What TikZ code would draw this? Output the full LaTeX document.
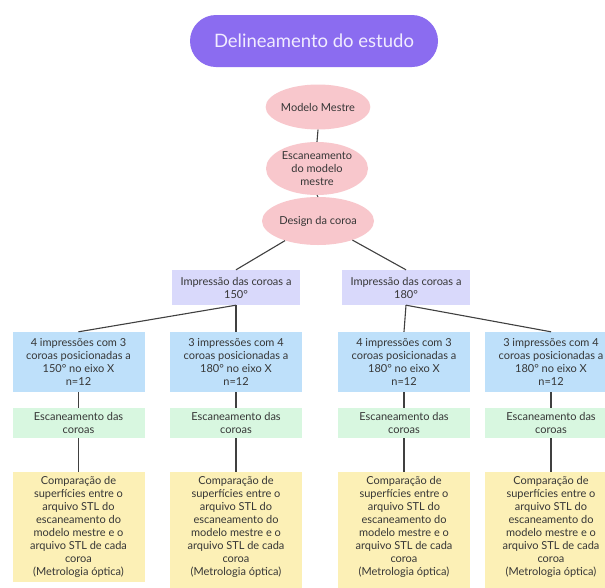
\documentclass[tikz,border=0pt]{standalone}
\usepackage{fontspec}
\setmainfont{Lato}
\usetikzlibrary{shapes.geometric}
\definecolor{pill}{HTML}{8B6CF0}
\definecolor{pilltext}{HTML}{F1ECFF}
\definecolor{pinkc}{HTML}{F8C7CC}
\definecolor{lav}{HTML}{D9D9FB}
\definecolor{bluec}{HTML}{BEE0FA}
\definecolor{greenc}{HTML}{D8F7E0}
\definecolor{yellowc}{HTML}{FCF0B6}
\definecolor{txt}{HTML}{363636}
\definecolor{linec}{HTML}{404040}
\begin{document}
\begin{tikzpicture}[x=1pt,y=-1pt,
  titlebox/.style={rectangle, rounded corners=26pt, fill=pill, text=pilltext, minimum width=248pt, minimum height=52pt, inner sep=0pt, font=\fontsize{18.5}{22}\selectfont},
  oval/.style={ellipse, fill=pinkc, inner sep=0pt, align=center, text=txt, font=\fontsize{11}{13}\selectfont},
  box/.style={rectangle, inner sep=0pt, align=center, text=txt, font=\fontsize{11}{13}\selectfont, minimum width=132pt},
  lavbox/.style={box, fill=lav, minimum width=128pt, minimum height=35pt},
  bluebox/.style={box, fill=bluec, minimum height=60pt},
  greenbox/.style={box, fill=greenc, minimum height=30pt},
  yellowbox/.style={box, fill=yellowc, minimum height=110pt},
  conn/.style={draw=linec, line width=1.1pt}
]
\useasboundingbox (0,0) rectangle (605,587);
\fill[white] (0,0) rectangle (605,587);

\node[titlebox] (title) at (314,41) {Delineamento do estudo};

\node[oval, minimum width=98pt, minimum height=45pt] (e1) at (318,107) {Modelo Mestre};
\node[oval, minimum width=102pt, minimum height=53pt] (e2) at (317,168.5) {Escaneamento\\do modelo\\mestre};
\node[oval, minimum width=112pt, minimum height=48pt] (e3) at (318,221) {Design da coroa};

\node[lavbox] (la) at (236,287.5) {Impressão das coroas a\\150°};
\node[lavbox] (lb) at (406,287.5) {Impressão das coroas a\\180°};

\node[bluebox] (ba) at (78.5,362) {4 impressões com 3\\coroas posicionadas a\\150° no eixo X\\n=12};
\node[bluebox] (bb) at (236,362) {3 impressões com 4\\coroas posicionadas a\\180° no eixo X\\n=12};
\node[bluebox] (bc) at (404,362) {4 impressões com 3\\coroas posicionadas a\\180° no eixo X\\n=12};
\node[bluebox] (bd) at (551,362) {3 impressões com 4\\coroas posicionadas a\\180° no eixo X\\n=12};

\node[greenbox] (ga) at (78.5,423) {Escaneamento das\\coroas};
\node[greenbox] (gb) at (236,423) {Escaneamento das\\coroas};
\node[greenbox] (gc) at (404,423) {Escaneamento das\\coroas};
\node[greenbox] (gd) at (551,423) {Escaneamento das\\coroas};

\fill[yellowc] (170,520) rectangle (302,595);
\fill[yellowc] (338,520) rectangle (470,595);
\fill[yellowc] (485,520) rectangle (617,595);
\node[yellowbox] (ya) at (78.5,527) {Comparação de\\superfícies entre o\\arquivo STL do\\escaneamento do\\modelo mestre e o\\arquivo STL de cada\\coroa\\(Metrologia óptica)};
\node[yellowbox] (yb) at (236,527) {Comparação de\\superfícies entre o\\arquivo STL do\\escaneamento do\\modelo mestre e o\\arquivo STL de cada\\coroa\\(Metrologia óptica)};
\node[yellowbox] (yc) at (404,527) {Comparação de\\superfícies entre o\\arquivo STL do\\escaneamento do\\modelo mestre e o\\arquivo STL de cada\\coroa\\(Metrologia óptica)};
\node[yellowbox] (yd) at (551,527) {Comparação de\\superfícies entre o\\arquivo STL do\\escaneamento do\\modelo mestre e o\\arquivo STL de cada\\coroa\\(Metrologia óptica)};

\draw[conn] (e1.south) -- (e2.north);
\draw[conn] (e2.south) -- (e3.north);
\draw[conn] (e3) -- (la.north);
\draw[conn] (e3) -- (lb.north);
\draw[conn] (la.south) -- (ba.north);
\draw[conn] (la.south) -- (bb.north);
\draw[conn] (lb.south) -- (bc.north);
\draw[conn] (lb.south) -- (bd.north);
\foreach \b/\g/\y in {ba/ga/ya, bb/gb/yb, bc/gc/yc, bd/gd/yd}{
  \draw[conn] (\b.south) -- (\g.north);
  \draw[conn] (\g.south) -- (\y.north);
}
\end{tikzpicture}
\end{document}
